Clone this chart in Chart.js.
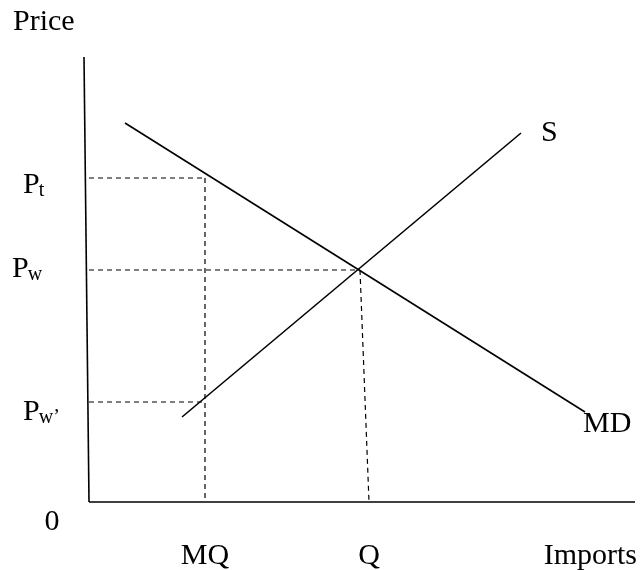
<!DOCTYPE html>
<html lang="en">
<head>
<meta charset="UTF-8">
<title>Imports: MD and S</title>
<script src="https://cdn.jsdelivr.net/npm/chart.js"></script>
<style>
  body { margin: 0; background: #fff; }
  #box { width: 640px; height: 570px; }
</style>
</head>
<body>
<div id="box"><canvas id="myChart"></canvas></div>
<script>
// price levels (P with subscript)
const priceSubs = ['t', 'w', 'w\u2019'];
const priceValues = [6.48, 4.64, 2.0];
const priceGuideTo = [2.32, 5.42, 2.32];   // where the dashed line stops

// quantities on the import axis
const qtyNames = ['MQ', 'Q'];
const qtyTop = [2.32, 5.42];
const qtyTopPrice = [6.48, 4.64];
const qtyFoot = [2.32, 5.6];

// import demand (MD) and supply (S), end points
const demandX = [0.72, 9.92];
const demandY = [7.58, 1.8];
const supplyX = [1.86, 8.64];
const supplyY = [1.7, 7.38];

// axis ends
const axisXMax = 10.92;
const axisYMax = 8.9;

const FONT = '"Liberation Serif", "Times New Roman", serif';

function seg(x0, y0, x1, y1, dashed) {
  return {
    data: [{x: x0, y: y0}, {x: x1, y: y1}],
    showLine: true,
    borderColor: '#000',
    borderWidth: dashed ? 1.2 : 1.6,
    borderDash: dashed ? [5, 4] : [],
    pointRadius: 0,
    clip: false
  };
}

const datasets = [];
// axes
datasets.push(seg(-0.1, axisYMax, 0, 0, false));
datasets.push(seg(0, 0, axisXMax, 0, false));
// curves
datasets.push(seg(demandX[0], demandY[0], demandX[1], demandY[1], false));
datasets.push(seg(supplyX[0], supplyY[0], supplyX[1], supplyY[1], false));
// dashed guides
priceValues.forEach((p, i) => datasets.push(seg(0, p, priceGuideTo[i], p, true)));
qtyTop.forEach((q, i) => datasets.push(seg(q, qtyTopPrice[i], qtyFoot[i], 0, true)));

// text labels placed from the scales
const labelPlugin = {
  id: 'labels',
  afterDraw(chart) {
    const ctx = chart.ctx;
    const xs = chart.scales.x, ys = chart.scales.y;
    const x0 = xs.getPixelForValue(0), y0 = ys.getPixelForValue(0);
    ctx.save();
    ctx.fillStyle = '#000';
    ctx.textBaseline = 'alphabetic';

    // price labels
    const left = [23, 12, 23];
    const drop = [15, 7, 18];
    priceValues.forEach((p, i) => {
      const y = ys.getPixelForValue(p) + drop[i];
      ctx.font = '30px ' + FONT;
      ctx.textAlign = 'left';
      ctx.fillText('P', left[i], y);
      const w = ctx.measureText('P').width;
      ctx.font = '20px ' + FONT;
      ctx.fillText(priceSubs[i], left[i] + w - 1, y + 3);
    });

    ctx.font = '30px ' + FONT;
    // axis titles
    ctx.textAlign = 'left';
    ctx.fillText('Price', 13, ys.getPixelForValue(axisYMax) - 27);
    ctx.textAlign = 'right';
    ctx.fillText('Imports', xs.getPixelForValue(axisXMax) + 2, y0 + 62);
    ctx.textAlign = 'center';
    ctx.fillText('0', x0 - 37, y0 + 28);

    // quantity labels
    qtyNames.forEach((n, i) => {
      ctx.fillText(n, xs.getPixelForValue(qtyFoot[i]), y0 + 62);
    });

    // curve labels
    ctx.textAlign = 'left';
    ctx.fillText('S', xs.getPixelForValue(supplyX[1]) + 20, ys.getPixelForValue(supplyY[1]) + 8);
    ctx.fillText('MD', xs.getPixelForValue(demandX[1]) - 2, ys.getPixelForValue(demandY[1]) + 20);
    ctx.restore();
  }
};

new Chart(document.getElementById('myChart'), {
  type: 'scatter',
  data: { datasets: datasets },
  options: {
    responsive: true,
    maintainAspectRatio: false,
    animation: false,
    events: [],
    layout: { padding: { left: 89, right: 5, top: 57, bottom: 68 } },
    plugins: { legend: { display: false }, tooltip: { enabled: false } },
    scales: {
      x: { type: 'linear', min: 0, max: axisXMax, display: false },
      y: { type: 'linear', min: 0, max: axisYMax, display: false }
    }
  },
  plugins: [labelPlugin]
});
</script>
</body>
</html>
